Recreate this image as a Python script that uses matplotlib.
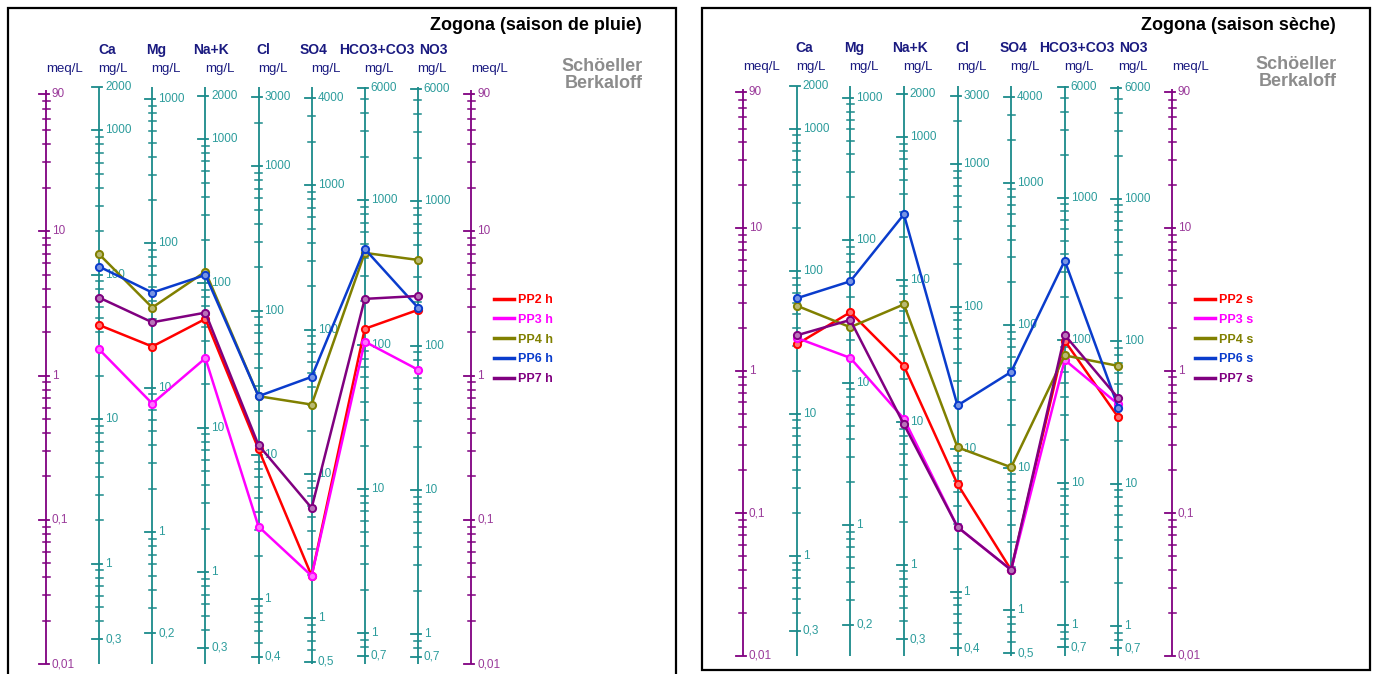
import numpy as np
import matplotlib.pyplot as plt
from matplotlib.patches import Rectangle
from matplotlib.lines import Line2D
from matplotlib.colors import to_rgb

plt.rcParams['font.family'] = ['Liberation Sans', 'DejaVu Sans']

W, H = 1378, 674

# ions of the Schoeller-Berkaloff diagram
ions = ["Ca", "Mg", "Na+K", "Cl", "SO4", "HCO3+CO3", "NO3"]
eq_weight = [20.04, 12.15, 23.0, 35.45, 48.03, 61.02, 62.0]
tick_lo = [0.3, 0.2, 0.3, 0.4, 0.5, 0.7, 0.7]
tick_hi = [2000, 1000, 2000, 3000, 4000, 6000, 6000]

samples = ["PP2", "PP3", "PP4", "PP6", "PP7"]
colors = ["#ff0000", "#ff00ff", "#808000", "#0a3ccc", "#800080"]

# meq/L, saison de pluie (Ca, Mg, Na+K, Cl, SO4, HCO3+CO3, NO3)
pp2_h = [2.24, 1.59, 2.47, 0.31, 0.041, 2.11, 2.85]
pp3_h = [1.52, 0.64, 1.32, 0.090, 0.041, 1.72, 1.10]
pp4_h = [6.93, 2.96, 5.25, 0.72, 0.63, 7.08, 6.33]
pp6_h = [5.69, 3.76, 4.98, 0.72, 0.98, 7.54, 2.96]
pp7_h = [3.47, 2.34, 2.73, 0.33, 0.121, 3.40, 3.56]

# meq/L, saison seche
pp2_s = [1.53, 2.57, 1.08, 0.160, 0.040, 1.62, 0.47]
pp3_s = [1.70, 1.23, 0.46, 0.080, 0.040, 1.19, 0.58]
pp4_s = [2.86, 2.02, 2.92, 0.29, 0.21, 1.28, 1.08]
pp6_s = [3.22, 4.24, 12.5, 0.57, 0.98, 5.92, 0.55]
pp7_s = [1.77, 2.27, 0.42, 0.080, 0.040, 1.78, 0.64]

pluie = [pp2_h, pp3_h, pp4_h, pp6_h, pp7_h]
seche = [pp2_s, pp3_s, pp4_s, pp6_s, pp7_s]

teal = "#1a8a8a"
teal_txt = "#2c9c9c"
purple = "#800080"
navy = "#1a1a80"


def fmt(v):
    if v >= 1:
        return "%d" % round(v)
    return ("%g" % v).replace(".", ",")


def px(x, y):
    return x / W, 1 - y / H


def draw_axis(ax, xpos, vals, majors, labels, color, tcolor, top=100, dxpx=425.0):
    k = 8.0 / dxpx
    ax.plot([xpos, xpos], [0.01, top], color=color, lw=1.3,
            solid_capstyle="butt", clip_on=False)
    for v in vals:
        if v in majors:
            ax.plot([xpos - 7 * k, xpos + 3 * k], [v, v], color=color, lw=1.3, clip_on=False)
        else:
            ax.plot([xpos - 3.5 * k, xpos + 3.5 * k], [v, v], color=color, lw=1.1, clip_on=False)
    for v, t in labels:
        ax.text(xpos + 6 * k, v, t, color=tcolor, fontsize=8.5, va="center", ha="left")


def panel(x0, x1, y_lo, y_hi, data, suffix, title, frame, hy):
    fig.add_artist(Rectangle(px(frame[0], frame[3]), (frame[2] - frame[0]) / W,
                             (frame[3] - frame[1]) / H, transform=fig.transFigure,
                             fill=False, ec="black", lw=1.6))
    ax = fig.add_axes([x0 / W, 1 - y_lo / H, (x1 - x0) / W, (y_lo - y_hi) / H])
    ax.set_yscale("log")
    ax.set_xlim(0, 8)
    ax.set_ylim(0.01, 100)
    ax.axis("off")
    dx = float(x1 - x0)

    # meq/L axes on both sides
    mvals, mmaj = [], []
    for e in range(-2, 2):
        for d in range(1, 10):
            mvals.append(d * 10.0 ** e)
            if d == 1:
                mmaj.append(d * 10.0 ** e)
    mmaj.append(90.0)
    mlab = [(0.01, "0,01"), (0.1, "0,1"), (1, "1"), (10, "10"), (90, "90")]
    for xpos in (0, 8):
        draw_axis(ax, xpos, mvals, mmaj, mlab, purple, "#9a3a9a", top=95, dxpx=dx)

    # mg/L axes
    for i in range(len(ions)):
        vals, maj, lab = [], [], []
        for e in range(-1, 4):
            for d in range(1, 10):
                v = d * 10.0 ** e
                if tick_lo[i] - 1e-9 <= v <= tick_hi[i] + 1e-9:
                    m = v / eq_weight[i]
                    vals.append(m)
                    if d == 1:
                        maj.append(m)
                        lab.append((m, fmt(v)))
                    elif abs(v - tick_lo[i]) < 1e-9 or abs(v - tick_hi[i]) < 1e-9:
                        maj.append(m)
                        lab.append((m, fmt(v)))
        draw_axis(ax, i + 1, vals, maj, lab, teal, teal_txt, dxpx=dx)

    xs = np.arange(1, len(ions) + 1)
    for vals, c in zip(data, colors):
        light = tuple(0.55 * np.array(to_rgb(c)) + 0.45)
        ax.plot(xs, vals, color=c, lw=1.8, marker="o", ms=5.2, mfc=light, mec=c,
                mew=1.4, clip_on=False, zorder=5)

    handles = [Line2D([], [], color=c, lw=2.5) for c in colors]
    fig.legend(handles, [s + " " + suffix for s in samples], loc="upper left",
               bbox_to_anchor=px(x1 + 23, 294), frameon=False,
               labelcolor="linecolor", prop={"weight": "bold", "size": 9},
               handlelength=1.6, handletextpad=0.35, labelspacing=0.62,
               borderpad=0, borderaxespad=0)

    # header texts
    k = dx / 8.0
    hx = [8, 4, 6, 5, 2, 12, 15]
    for i, name in enumerate(ions):
        fig.text(*px(x0 + (i + 1) * k + hx[i], hy), name, color=navy, fontsize=10,
                 fontweight="bold", ha="center", va="center")
    for i in range(9):
        unit = "meq/L" if i in (0, 8) else "mg/L"
        off = 19 if i in (0, 8) else 14
        fig.text(*px(x0 + i * k + off, hy + 19), unit, color=navy, fontsize=9.5,
                 ha="center", va="center")
    fig.text(*px(frame[2] - 34, 26), title, fontsize=13, fontweight="bold",
             ha="right", va="center")
    fig.text(*px(frame[2] - 33, hy + 25), "Schöeller\nBerkaloff", fontsize=13,
             fontweight="bold", color="#8c8c8c", ha="right", va="center",
             linespacing=1.05)


fig = plt.figure(figsize=(W / 100, H / 100), dpi=100)
panel(46, 471, 664.3, 86.9, pluie, "h", "Zogona (saison de pluie)", (8, 8, 676, 690), 50)
panel(743, 1172, 655.7, 85.7, seche, "s", "Zogona (saison sèche)", (702, 8, 1370, 670), 48)

fig.savefig("out.png", dpi=100)
